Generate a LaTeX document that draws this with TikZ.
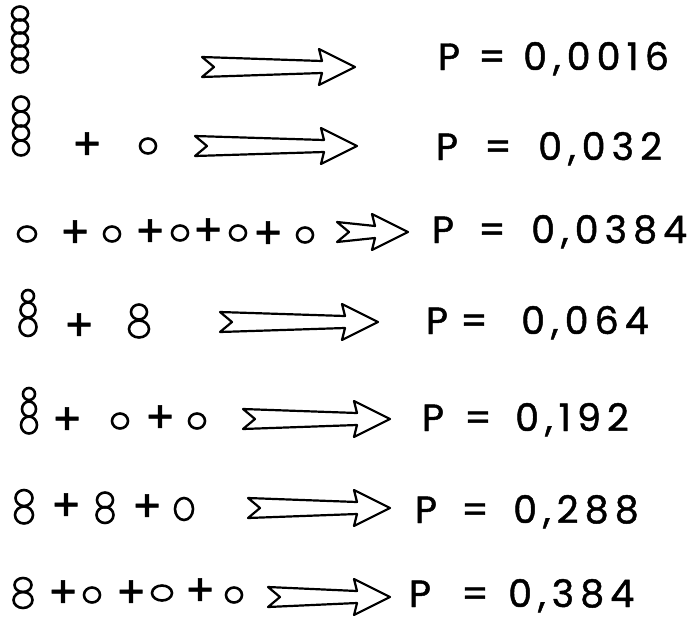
\documentclass[tikz,border=0pt]{standalone}
\usepackage{fontspec}
\setmainfont{Poppins}[FakeBold=1.2]
\newfontfamily\valfont{Poppins}[LetterSpace=16, FakeBold=1.2]
\usetikzlibrary{shapes.geometric}

\begin{document}
\begin{tikzpicture}[x=1pt, y=-1pt,
    ball/.style={draw, ellipse, line width=2.6pt, inner sep=0pt,
                 minimum width=16pt, minimum height=15pt},
    plus/.style={inner sep=0pt, font=\fontsize{44}{44}\selectfont},
    prob/.style={inner sep=0pt, anchor=base, font=\fontsize{38}{38}\selectfont},
    val/.style={inner sep=0pt, anchor=base west, font=\fontsize{38}{38}\selectfont\valfont},
    fatarrow/.pic={
      \draw[line width=2.2pt, line join=round, fill=white]
        (0,-10) -- (#1-33,-6) -- (#1-36,-18) -- (#1,0) -- (#1-36,18)
        -- (#1-33,6) -- (0,10) -- (12,0) -- cycle;
    }
]
\useasboundingbox (0,0) rectangle (698,622);

% 5
\foreach \i/\y in {1/13.5,2/26.5,3/39.5,4/52.5,5/65.5}
  \node[ball, minimum height=14pt] (r1s\i) at (20,\y) {};
\pic at (202,67) {fatarrow=153};
\node[prob] (r1p) at (449,70) {P};
\node[prob] (r1e) at (492,70) {=};
\node[val]  (r1v) at (523,70) {0,0016};

% 4 + 1
\foreach \i/\y in {1/104,2/119,3/133,4/148}
  \node[ball] (r2s\i) at (21,\y) {};
\node[plus] (r2a) at (87,146) {+};
\node[ball] (r2b) at (148,146) {};
\pic at (195,146) {fatarrow=162};
\node[prob] (r2p) at (447,160) {P};
\node[prob] (r2e) at (498,160) {=};
\node[val]  (r2v) at (538,160) {0,032};

% 1 + 1 + 1 + 1 + 1
\node[ball, minimum width=18pt] (r3b1) at (27,234) {};
\node[plus] (r3a1) at (75,234) {+};
\node[ball] (r3b2) at (112,234) {};
\node[plus] (r3a2) at (150,233) {+};
\node[ball] (r3b3) at (180,233) {};
\node[plus] (r3a3) at (208,232) {+};
\node[ball] (r3b4) at (238,233) {};
\node[plus] (r3a4) at (268,235) {+};
\node[ball] (r3b5) at (305,235) {};
\pic at (337,232) {fatarrow=71};
\node[prob] (r3p) at (443,243) {P};
\node[prob] (r3e) at (492,243) {=};
\node[val]  (r3v) at (531,243) {0,0384};

% 3 + 2
\node[ball, minimum width=12pt, minimum height=12pt] (r4s1) at (28,296) {};
\node[ball, minimum width=15pt, minimum height=15pt] (r4s2) at (28,310) {};
\node[ball, minimum width=17pt, minimum height=18pt] (r4s3) at (28,327) {};
\node[plus] (r4a) at (79,327) {+};
\node[ball, minimum width=16pt, minimum height=15pt] (r4t1) at (139,312) {};
\node[ball, minimum width=20pt, minimum height=17pt] (r4t2) at (139,329) {};
\pic at (220,322) {fatarrow=158};
\node[prob] (r4p) at (437,334) {P};
\node[prob] (r4e) at (474,334) {=};
\node[val]  (r4v) at (521,334) {0,064};

% 3 + 1 + 1
\node[ball, minimum width=12pt, minimum height=12pt] (r5s1) at (29,394) {};
\node[ball, minimum width=14pt, minimum height=15pt] (r5s2) at (29,409) {};
\node[ball, minimum width=16pt, minimum height=17pt] (r5s3) at (29,425) {};
\node[plus] (r5a1) at (67,421) {+};
\node[ball] (r5b1) at (120,421) {};
\node[plus] (r5a2) at (160,419) {+};
\node[ball] (r5b2) at (197,421) {};
\pic at (243,419) {fatarrow=147};
\node[prob] (r5p) at (433,431) {P};
\node[prob] (r5e) at (478,431) {=};
\node[val]  (r5v) at (515,431) {0,192};

% 2 + 2 + 1
\node[ball, minimum width=17pt, minimum height=16pt] (r6s1) at (24,498) {};
\node[ball, minimum width=18pt, minimum height=17pt] (r6s2) at (24,515) {};
\node[plus] (r6a1) at (66,507) {+};
\node[ball, minimum width=16pt, minimum height=15pt] (r6t1) at (105,500) {};
\node[ball, minimum width=17pt, minimum height=16pt] (r6t2) at (105,515) {};
\node[plus] (r6a2) at (147,508) {+};
\node[ball, minimum width=18pt, minimum height=22pt] (r6b) at (184,509) {};
\pic at (248,508) {fatarrow=142};
\node[prob] (r6p) at (426,523) {P};
\node[prob] (r6e) at (475,523) {=};
\node[val]  (r6v) at (513,523) {0,288};

% 2 + 1 + 1 + 1
\node[ball, minimum width=17pt, minimum height=14pt] (r7s1) at (23,585) {};
\node[ball, minimum width=19pt, minimum height=16pt] (r7s2) at (23,600) {};
\node[plus] (r7a1) at (63,594) {+};
\node[ball] (r7b1) at (92,595) {};
\node[plus] (r7a2) at (131,594) {+};
\node[ball, minimum width=20pt] (r7b2) at (162,593) {};
\node[plus] (r7a3) at (200,592) {+};
\node[ball] (r7b3) at (234,595) {};
\pic at (268,597) {fatarrow=122};
\node[prob] (r7p) at (420,607) {P};
\node[prob] (r7e) at (475,607) {=};
\node[val]  (r7v) at (508,607) {0,384};
\end{tikzpicture}
\end{document}
